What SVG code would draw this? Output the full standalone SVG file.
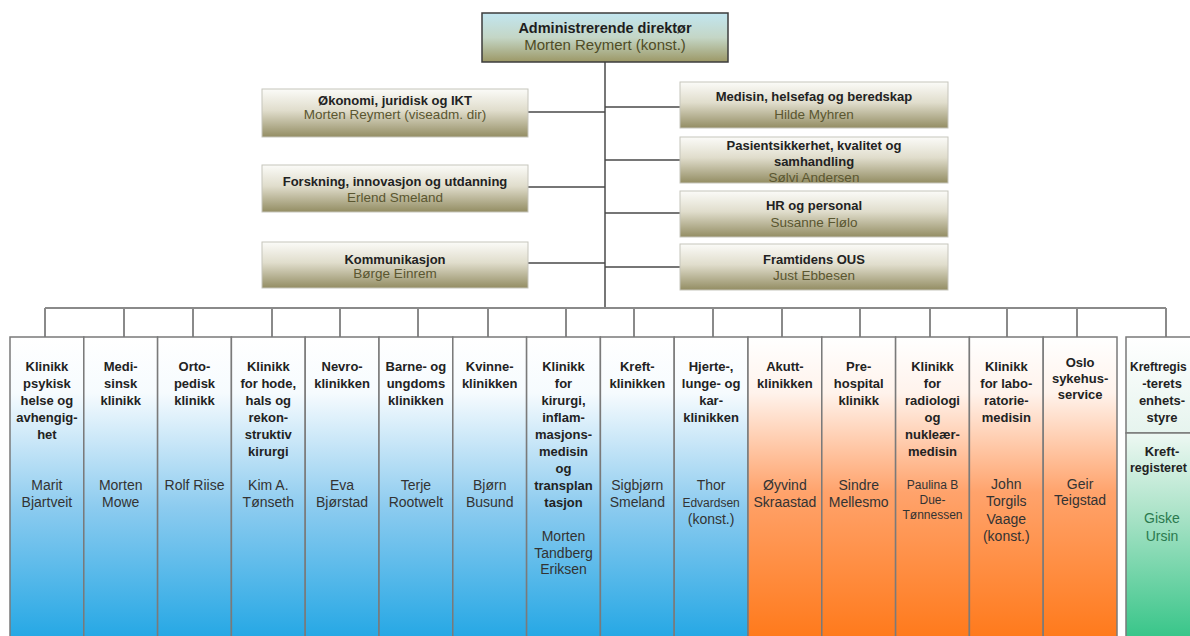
<svg xmlns="http://www.w3.org/2000/svg" width="1190" height="636" viewBox="0 0 1190 636">
<defs>
<linearGradient id="gTop" x1="0" y1="0" x2="0" y2="1"><stop offset="0" stop-color="#c2e6f0"/><stop offset="0.5" stop-color="#c4d6c6"/><stop offset="1" stop-color="#9c9866"/></linearGradient>
<linearGradient id="gStaff" x1="0" y1="0" x2="0" y2="1"><stop offset="0" stop-color="#fbfbf8"/><stop offset="0.45" stop-color="#e0ddcc"/><stop offset="1" stop-color="#938d63"/></linearGradient>
<linearGradient id="gBlue" x1="0" y1="0" x2="0" y2="1"><stop offset="0" stop-color="#ffffff"/><stop offset="0.18" stop-color="#f6fbfe"/><stop offset="0.55" stop-color="#8ccbef"/><stop offset="1" stop-color="#1ea5e4"/></linearGradient>
<linearGradient id="gOrange" x1="0" y1="0" x2="0" y2="1"><stop offset="0" stop-color="#ffffff"/><stop offset="0.18" stop-color="#fff3ec"/><stop offset="0.5" stop-color="#ffa36c"/><stop offset="1" stop-color="#ff7716"/></linearGradient>
<linearGradient id="gGreenTop" x1="0" y1="0" x2="0" y2="1"><stop offset="0" stop-color="#ffffff"/><stop offset="1" stop-color="#e6f4ee"/></linearGradient>
<linearGradient id="gGreen" x1="0" y1="0" x2="0" y2="1"><stop offset="0" stop-color="#eef8f3"/><stop offset="0.4" stop-color="#a8e2c6"/><stop offset="1" stop-color="#33c486"/></linearGradient>
<style>
text{font-family:"Liberation Sans",Arial,sans-serif;text-anchor:middle}
.top{fill:url(#gTop);stroke:#3c3c3c;stroke-width:1.5}
.staff{fill:url(#gStaff);stroke:#c6c5bc;stroke-width:1}
.blue{fill:url(#gBlue);stroke:#7a7a7a;stroke-width:1.5}
.orange{fill:url(#gOrange);stroke:#7a7a7a;stroke-width:1.5}
.tt{font-weight:bold;font-size:14.5px;fill:#1e1e1e}
.tn{font-size:15px;fill:#4f4c26}
.st{font-weight:bold;font-size:13px;fill:#222}
.sn{font-size:13.5px;fill:#5a5630}
.ct{font-weight:bold;font-size:13px;fill:#222}
.cn{font-size:14px;fill:#333}
.cs{font-size:12px;fill:#333}
.gn{font-size:14px;fill:#2b7a4e}
.line{stroke:#4a4a4a;stroke-width:1.5;fill:none}
.bus{stroke:#8a8a8a;stroke-width:2;fill:none}
</style>
</defs>
<rect width="1190" height="636" fill="#ffffff"/>

<g id="connectors">
<path class="line" d="M605 62V308"/>
<path class="line" d="M528 112H605M528 187H605M528 263H605"/>
<path class="line" d="M605 107H680M605 160H680M605 213H680M605 267H680"/>
<path class="bus" d="M45 308H1166"/>
<path class="bus" d="M45 308V337M124 308V337M193 308V337M272 308V337M340 308V337M418 308V337M488 308V337M566 308V337M634 308V337M713 308V337M782 308V337M860 308V337M930 308V337M1007 308V337M1077 308V337M1166 308V337"/>
</g>

<g id="ceo">
<rect class="top" x="482" y="13" width="246" height="49"/>
<text class="tt" x="605" y="33">Administrerende direktør</text>
<text class="tn" x="605" y="49.5">Morten Reymert (konst.)</text>
</g>

<g id="staff-okonomi">
<rect class="staff" x="262" y="89" width="266" height="48"/>
<text class="st" x="395" y="104.5">Økonomi, juridisk og IKT</text>
<text class="sn" x="395" y="119">Morten Reymert (viseadm. dir)</text>
</g>
<g id="staff-forskning">
<rect class="staff" x="262" y="165" width="266" height="47"/>
<text class="st" x="395" y="186">Forskning, innovasjon og utdanning</text>
<text class="sn" x="395" y="202">Erlend Smeland</text>
</g>
<g id="staff-kommunikasjon">
<rect class="staff" x="262" y="242" width="266" height="46"/>
<text class="st" x="395" y="263.5">Kommunikasjon</text>
<text class="sn" x="395" y="278">Børge Einrem</text>
</g>
<g id="staff-medisin">
<rect class="staff" x="680" y="82" width="268" height="46"/>
<text class="st" x="814" y="101">Medisin, helsefag og beredskap</text>
<text class="sn" x="814" y="118.5">Hilde Myhren</text>
</g>
<g id="staff-pasientsikkerhet">
<rect class="staff" x="680" y="137" width="268" height="46"/>
<text class="st" x="814" y="149.5">Pasientsikkerhet, kvalitet og</text>
<text class="st" x="814" y="165.5">samhandling</text>
<text class="sn" x="814" y="181.5">Sølvi Andersen</text>
</g>
<g id="staff-hr">
<rect class="staff" x="680" y="191" width="268" height="46"/>
<text class="st" x="814" y="210">HR og personal</text>
<text class="sn" x="814" y="226.5">Susanne Flølo</text>
</g>
<g id="staff-framtidens">
<rect class="staff" x="680" y="244" width="268" height="46"/>
<text class="st" x="814" y="263.5">Framtidens OUS</text>
<text class="sn" x="814" y="280">Just Ebbesen</text>
</g>

<g id="col-psykisk">
<rect class="blue" x="10" y="337" width="73.8" height="310"/>
<text class="ct" y="371"><tspan x="46.9">Klinikk</tspan><tspan x="46.9" dy="17">psykisk</tspan><tspan x="46.9" dy="17">helse og</tspan><tspan x="46.9" dy="17">avhengig-</tspan><tspan x="46.9" dy="17">het</tspan></text>
<text class="cn" y="490"><tspan x="46.9">Marit</tspan><tspan x="46.9" dy="17">Bjartveit</tspan></text>
</g>
<g id="col-medisinsk">
<rect class="blue" x="83.8" y="337" width="73.8" height="310"/>
<text class="ct" y="371"><tspan x="120.7">Medi-</tspan><tspan x="120.7" dy="17">sinsk</tspan><tspan x="120.7" dy="17">klinikk</tspan></text>
<text class="cn" y="490"><tspan x="120.7">Morten</tspan><tspan x="120.7" dy="17">Mowe</tspan></text>
</g>
<g id="col-ortopedisk">
<rect class="blue" x="157.6" y="337" width="73.8" height="310"/>
<text class="ct" y="371"><tspan x="194.5">Orto-</tspan><tspan x="194.5" dy="17">pedisk</tspan><tspan x="194.5" dy="17">klinikk</tspan></text>
<text class="cn" x="194.5" y="490">Rolf Riise</text>
</g>
<g id="col-hode">
<rect class="blue" x="231.4" y="337" width="73.8" height="310"/>
<text class="ct" y="371"><tspan x="268.3">Klinikk</tspan><tspan x="268.3" dy="17">for hode,</tspan><tspan x="268.3" dy="17">hals og</tspan><tspan x="268.3" dy="17">rekon-</tspan><tspan x="268.3" dy="17">struktiv</tspan><tspan x="268.3" dy="17">kirurgi</tspan></text>
<text class="cn" y="490"><tspan x="268.3">Kim A.</tspan><tspan x="268.3" dy="17">Tønseth</tspan></text>
</g>
<g id="col-nevro">
<rect class="blue" x="305.2" y="337" width="73.8" height="310"/>
<text class="ct" y="371"><tspan x="342.1">Nevro-</tspan><tspan x="342.1" dy="17">klinikken</tspan></text>
<text class="cn" y="490"><tspan x="342.1">Eva</tspan><tspan x="342.1" dy="17">Bjørstad</tspan></text>
</g>
<g id="col-barne">
<rect class="blue" x="379" y="337" width="73.8" height="310"/>
<text class="ct" y="371"><tspan x="415.9">Barne- og</tspan><tspan x="415.9" dy="17">ungdoms</tspan><tspan x="415.9" dy="17">klinikken</tspan></text>
<text class="cn" y="490"><tspan x="415.9">Terje</tspan><tspan x="415.9" dy="17">Rootwelt</tspan></text>
</g>
<g id="col-kvinne">
<rect class="blue" x="452.8" y="337" width="73.8" height="310"/>
<text class="ct" y="371"><tspan x="489.7">Kvinne-</tspan><tspan x="489.7" dy="17">klinikken</tspan></text>
<text class="cn" y="490"><tspan x="489.7">Bjørn</tspan><tspan x="489.7" dy="17">Busund</tspan></text>
</g>
<g id="col-kirurgi">
<rect class="blue" x="526.6" y="337" width="73.8" height="310"/>
<text class="ct" y="371"><tspan x="563.5">Klinikk</tspan><tspan x="563.5" dy="17">for</tspan><tspan x="563.5" dy="17">kirurgi,</tspan><tspan x="563.5" dy="17">inflam-</tspan><tspan x="563.5" dy="17">masjons-</tspan><tspan x="563.5" dy="17">medisin</tspan><tspan x="563.5" dy="17">og</tspan><tspan x="563.5" dy="17">transplan</tspan><tspan x="563.5" dy="17">tasjon</tspan></text>
<text class="cn" y="541"><tspan x="563.5">Morten</tspan><tspan x="563.5" dy="16.5">Tandberg</tspan><tspan x="563.5" dy="16.5">Eriksen</tspan></text>
</g>
<g id="col-kreft">
<rect class="blue" x="600.4" y="337" width="73.8" height="310"/>
<text class="ct" y="371"><tspan x="637.3">Kreft-</tspan><tspan x="637.3" dy="17">klinikken</tspan></text>
<text class="cn" y="490"><tspan x="637.3">Sigbjørn</tspan><tspan x="637.3" dy="17">Smeland</tspan></text>
</g>
<g id="col-hjerte">
<rect class="blue" x="674.2" y="337" width="73.8" height="310"/>
<text class="ct" y="371"><tspan x="711.1">Hjerte-,</tspan><tspan x="711.1" dy="17">lunge- og</tspan><tspan x="711.1" dy="17">kar-</tspan><tspan x="711.1" dy="17">klinikken</tspan></text>
<text class="cn" x="711.1" y="490">Thor</text>
<text class="cs" x="711.1" y="507">Edvardsen</text>
<text class="cn" x="711.1" y="524">(konst.)</text>
</g>
<g id="col-akutt">
<rect class="orange" x="748" y="337" width="73.8" height="310"/>
<text class="ct" y="371"><tspan x="784.9">Akutt-</tspan><tspan x="784.9" dy="17">klinikken</tspan></text>
<text class="cn" y="490"><tspan x="784.9">Øyvind</tspan><tspan x="784.9" dy="17">Skraastad</tspan></text>
</g>
<g id="col-prehospital">
<rect class="orange" x="821.8" y="337" width="73.8" height="310"/>
<text class="ct" y="371"><tspan x="858.7">Pre-</tspan><tspan x="858.7" dy="17">hospital</tspan><tspan x="858.7" dy="17">klinikk</tspan></text>
<text class="cn" y="490"><tspan x="858.7">Sindre</tspan><tspan x="858.7" dy="17">Mellesmo</tspan></text>
</g>
<g id="col-radiologi">
<rect class="orange" x="895.6" y="337" width="73.8" height="310"/>
<text class="ct" y="371"><tspan x="932.5">Klinikk</tspan><tspan x="932.5" dy="17">for</tspan><tspan x="932.5" dy="17">radiologi</tspan><tspan x="932.5" dy="17">og</tspan><tspan x="932.5" dy="17">nukleær-</tspan><tspan x="932.5" dy="17">medisin</tspan></text>
<text class="cs" y="489"><tspan x="932.5">Paulina B</tspan><tspan x="932.5" dy="15">Due-</tspan><tspan x="932.5" dy="15">Tønnessen</tspan></text>
</g>
<g id="col-laboratorie">
<rect class="orange" x="969.4" y="337" width="73.8" height="310"/>
<text class="ct" y="371"><tspan x="1006.3">Klinikk</tspan><tspan x="1006.3" dy="17">for labo-</tspan><tspan x="1006.3" dy="17">ratorie-</tspan><tspan x="1006.3" dy="17">medisin</tspan></text>
<text class="cn" y="489"><tspan x="1006.3">John</tspan><tspan x="1006.3" dy="17.3">Torgils</tspan><tspan x="1006.3" dy="17.3">Vaage</tspan><tspan x="1006.3" dy="17.3">(konst.)</tspan></text>
</g>
<g id="col-oslo">
<rect class="orange" x="1043.2" y="337" width="73.8" height="310"/>
<text class="ct" y="367"><tspan x="1080.1">Oslo</tspan><tspan x="1080.1" dy="16">sykehus-</tspan><tspan x="1080.1" dy="15.5">service</tspan></text>
<text class="cn" y="489"><tspan x="1080.1">Geir</tspan><tspan x="1080.1" dy="16">Teigstad</tspan></text>
</g>
<g id="col-kreftregisteret">
<rect x="1126" y="337" width="74" height="96" fill="url(#gGreenTop)" stroke="#7a7a7a" stroke-width="1.5"/>
<rect x="1126" y="433" width="74" height="210" fill="url(#gGreen)" stroke="#7a7a7a" stroke-width="1.5"/>
<text class="ct" x="1130" y="371" style="text-anchor:start;font-size:12px">Kreftregis</text>
<text class="ct" y="388"><tspan x="1162">-terets</tspan><tspan x="1162" dy="17">enhets-</tspan><tspan x="1162" dy="17">styre</tspan></text>
<text class="ct" x="1162" y="456">Kreft-</text>
<text class="ct" x="1130" y="472" style="text-anchor:start;font-size:12.5px">registeret</text>
<text class="gn" y="523"><tspan x="1162">Giske</tspan><tspan x="1162" dy="17.5">Ursin</tspan></text>
</g>
</svg>
